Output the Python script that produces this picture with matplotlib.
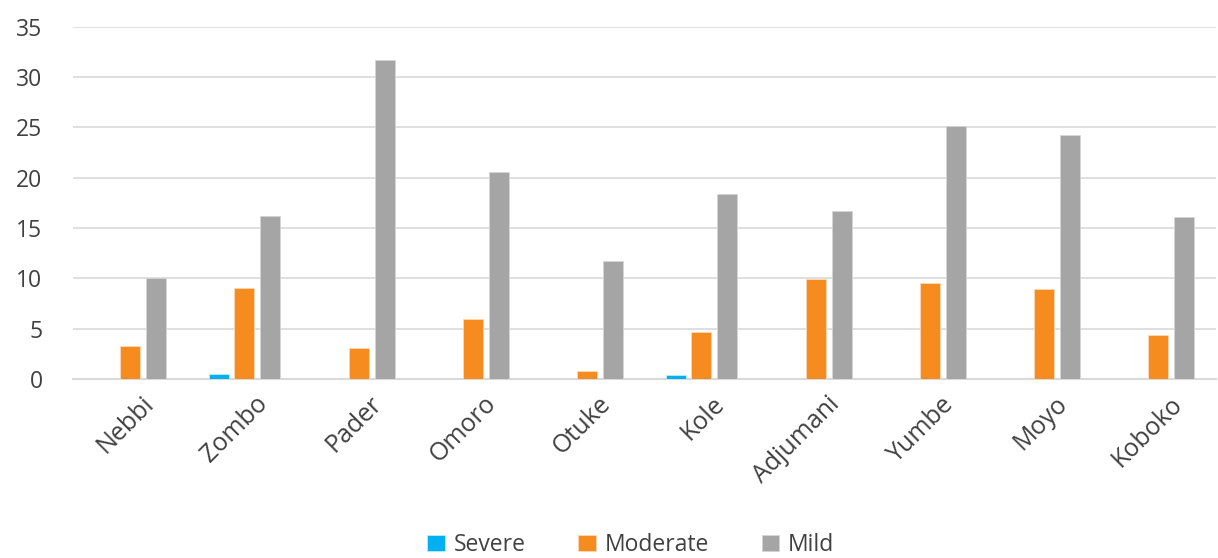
import numpy as np
import matplotlib.pyplot as plt
import matplotlib.transforms as mtransforms

plt.rcParams['font.family'] = ['Open Sans', 'DejaVu Sans']

districts = ["Nebbi", "Zombo", "Pader", "Omoro", "Otuke", "Kole",
             "Adjumani", "Yumbe", "Moyo", "Koboko"]
severe = [0, 0.5, 0, 0, 0, 0.4, 0, 0, 0, 0]
moderate = [3.3, 9.0, 3.1, 6.0, 0.8, 4.65, 9.9, 9.5, 8.95, 4.35]
mild = [10.0, 16.2, 31.7, 20.6, 11.7, 18.4, 16.7, 25.1, 24.2, 16.1]

fig = plt.figure(figsize=(12.18, 5.58), dpi=100)
ax = fig.add_axes([0.060, 0.321, 0.938, 0.631])

x = np.arange(len(districts))
w = 0.175
step = 0.227
ax.bar(x - step, severe, w, color="#00B0F0", edgecolor="#BFEBFB", lw=0.6, label="Severe", zorder=3)
ax.bar(x, moderate, w, color="#F68C1F", edgecolor="#FCD9B5", lw=0.6, label="Moderate", zorder=3)
ax.bar(x + step, mild, w, color="#A5A5A5", edgecolor="#D5D5D5", lw=0.6, label="Mild", zorder=3)

ax.set_xlim(-0.5, len(districts) - 0.5)
ax.set_ylim(0, 35)
ax.set_yticks(np.arange(0, 36, 5))
ax.grid(axis="y", color="#D9D9D9", lw=1.2, zorder=0)
for s in ["top", "right", "left"]:
    ax.spines[s].set_visible(False)
ax.spines["bottom"].set_color("#D9D9D9")
ax.spines["bottom"].set_linewidth(1.5)
ax.tick_params(axis="both", length=0, colors="#404040", labelsize=16.5)
ax.tick_params(axis="y", pad=22)
ax.tick_params(axis="x", pad=9)
ax.set_xticks(x)
ax.set_xticklabels(districts, rotation=45, ha="right", rotation_mode="anchor", fontsize=18)
shift = mtransforms.ScaledTranslation(0.11, 0, fig.dpi_scale_trans)
for lab in ax.get_xticklabels():
    lab.set_transform(lab.get_transform() + shift)

fig.legend(loc="lower center", ncol=3, bbox_to_anchor=(0.518, -0.035), frameon=False,
           fontsize=16.5, handlelength=0.75, handleheight=0.75, columnspacing=2.3,
           handletextpad=0.4, labelcolor="#404040")

fig.savefig("out.png", dpi=100)
